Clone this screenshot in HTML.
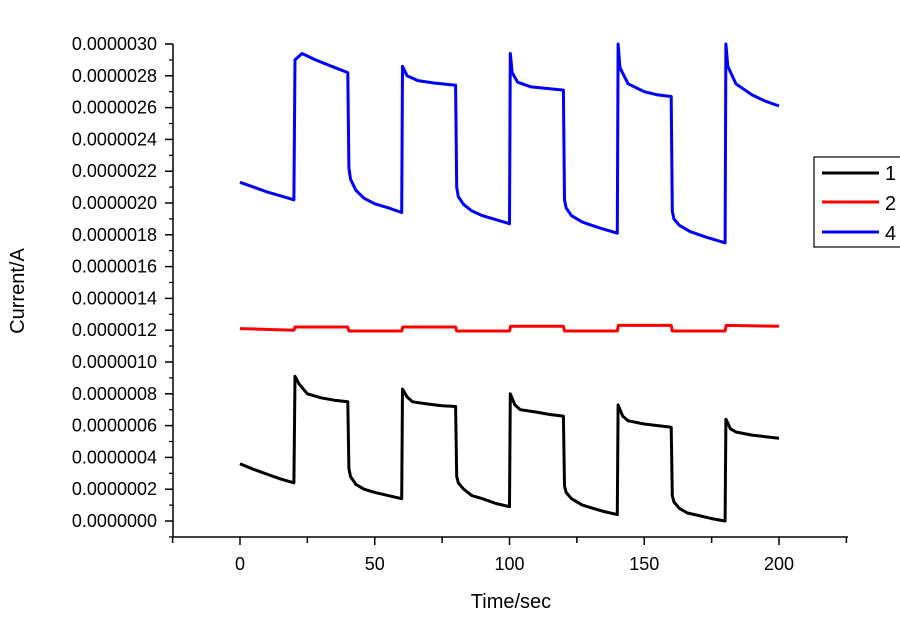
<!DOCTYPE html>
<html><head><meta charset="utf-8"><style>
html,body{margin:0;padding:0;background:#fff;}
svg{display:block;font-family:"Liberation Sans",Arial,sans-serif;}
</style></head><body>
<svg id="chart" width="900" height="617" viewBox="0 0 900 617" xmlns="http://www.w3.org/2000/svg">
<g id="axes"></g>
<g id="series"></g>
<text x="0" y="0" transform="translate(24,291) rotate(-90)" text-anchor="middle" font-size="20" fill="#000">Current/A</text>
<text x="511" y="608" text-anchor="middle" font-size="20" fill="#000">Time/sec</text>
<g>
<rect x="814" y="157" width="100" height="90" fill="#fff" stroke="#000" stroke-width="1.2"/>
<line x1="822" y1="173" x2="879" y2="173" stroke="#000" stroke-width="3"/>
<text x="885" y="180" font-size="20">1</text>
<line x1="822" y1="202" x2="879" y2="202" stroke="#f00" stroke-width="3"/>
<text x="885" y="210" font-size="20">2</text>
<line x1="822" y1="232" x2="879" y2="232" stroke="#00f" stroke-width="3"/>
<text x="885" y="240" font-size="20">4</text>
</g>
</svg>
<script>
// values in units of 1e-7 A
const series1T = [0,5,10,15,20,20.4,22,25,30,35,40,40.4,41,43,46,50,55,60,60.3,62,64,70,75,80,80.4,81,83,86,90,95,100,100.3,102,104,110,115,120,120.4,121,123,127,131,135,140,140.3,142,144,150,155,160,160.4,161,163,166,170,175,180,180.3,182,184,190,195,200];
const series1V = [3.6,3.25,2.95,2.65,2.4,9.1,8.6,8.0,7.75,7.6,7.5,3.3,2.8,2.3,2.0,1.8,1.6,1.4,8.3,7.8,7.5,7.35,7.25,7.2,2.8,2.4,2.0,1.6,1.4,1.1,0.9,8.0,7.3,7.0,6.85,6.7,6.6,2.2,1.8,1.4,1.0,0.8,0.6,0.4,7.3,6.6,6.3,6.1,6.0,5.9,1.6,1.2,0.8,0.5,0.35,0.15,0.0,6.4,5.8,5.6,5.4,5.3,5.2];
const series2T = [0,20,20.4,40,40.4,60,60.4,80,80.4,100,100.4,120,120.4,140,140.4,160,160.4,180,180.4,200];
const series2V = [12.1,12.0,12.2,12.2,11.95,11.95,12.2,12.2,11.95,11.95,12.25,12.25,11.95,11.95,12.3,12.3,11.95,11.95,12.3,12.25];
const series4T = [0,5,10,15,20,20.4,23,28,34,40,40.4,41,43,46,50,55,60,60.3,62,66,72,80,80.4,81,83,86,90,95,100,100.3,101,103,108,114,120,120.4,121,123,127,133,140,140.3,141,144,150,155,160,160.4,161,163,167,173,180,180.3,181,184,190,195,200];
const series4V = [21.3,21.0,20.7,20.45,20.2,29.0,29.4,29.0,28.6,28.2,22.2,21.5,20.8,20.3,19.95,19.7,19.4,28.6,28.0,27.7,27.55,27.4,21.0,20.4,19.9,19.5,19.2,18.95,18.7,29.4,28.2,27.6,27.3,27.2,27.1,20.2,19.7,19.2,18.8,18.45,18.1,30.0,28.5,27.5,27.0,26.8,26.7,19.5,19.0,18.6,18.2,17.85,17.5,30.0,28.6,27.5,26.8,26.4,26.1];
const yTicks = [0,2,4,6,8,10,12,14,16,18,20,22,24,26,28,30];
const yTickLabels = ["0.0000000","0.0000002","0.0000004","0.0000006","0.0000008","0.0000010","0.0000012","0.0000014","0.0000016","0.0000018","0.0000020","0.0000022","0.0000024","0.0000026","0.0000028","0.0000030"];
const xTicks = [0,50,100,150,200];
const xTickLabels = ["0","50","100","150","200"];

const NS="http://www.w3.org/2000/svg";
const X0=240, XS=(779-240)/200, Y0=521, YS=(521-44)/30;
const xs=t=>X0+t*XS, ys=v=>Y0-v*YS;
const axes=document.getElementById('axes'), ser=document.getElementById('series');
function mk(tag,attrs,parent){const e=document.createElementNS(NS,tag);for(const k in attrs)e.setAttribute(k,attrs[k]);parent.appendChild(e);return e;}
const yAxisX=173, xAxisY=537;
let l=mk('line',{x1:yAxisX,y1:44,x2:yAxisX,y2:xAxisY,stroke:'#000','stroke-width':1.5},axes);


l=mk('line',{x1:yAxisX,y1:xAxisY,x2:848,y2:xAxisY,stroke:'#000','stroke-width':1.5},axes);


yTicks.forEach((v,i)=>{
  const y=ys(v);
  const t=mk('line',{x1:yAxisX-8,y1:y,x2:yAxisX,y2:y,stroke:'#000','stroke-width':1.5},axes);
  
  
  const m=mk('line',{x1:yAxisX-4,y1:y+YS,x2:yAxisX,y2:y+YS,stroke:'#000','stroke-width':1.2},axes);
  
  
  const tx=mk('text',{x:yAxisX-16,y:y+6,'text-anchor':'end','font-size':18,fill:'#000'},axes);
  tx.textContent=yTickLabels[i];
  
  
});
for(let t=-25;t<=225;t+=25){
  const x=xs(t);
  const tk=mk('line',{x1:x,y1:xAxisY,x2:x,y2:xAxisY+(t%50===0?8:6),stroke:'#000','stroke-width':1.5},axes);
  
  
}
xTicks.forEach((t,i)=>{
  const tx=mk('text',{x:xs(t),y:570,'text-anchor':'middle','font-size':18,fill:'#000'},axes);
  tx.textContent=xTickLabels[i];
  
  
});
function draw(T,V,color,name){
  const d=T.map((t,i)=>(i?'L':'M')+xs(t).toFixed(1)+','+ys(V[i]).toFixed(1)).join('');
  const p=mk('path',{d:d,fill:'none',stroke:color,'stroke-width':3,'stroke-linejoin':'round'},ser);
  
  
}
draw(series1T,series1V,'#000','series-1-line');
draw(series2T,series2V,'#f00','series-2-line');
draw(series4T,series4V,'#00f','series-4-line');
</script>
</body></html>
